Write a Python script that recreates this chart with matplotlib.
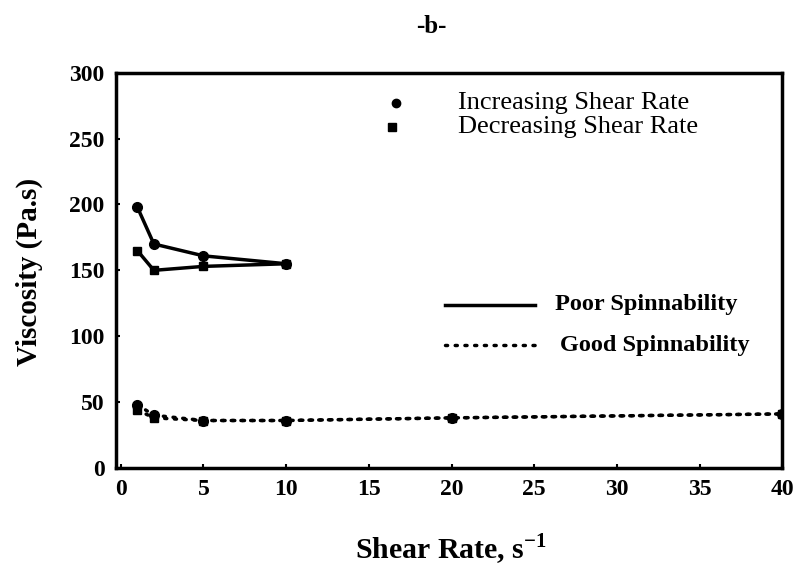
import matplotlib.pyplot as plt

plt.rcParams['font.family'] = ['Liberation Serif', 'DejaVu Serif']
plt.rcParams['mathtext.fontset'] = 'custom'
plt.rcParams['mathtext.rm'] = 'Liberation Serif'
plt.rcParams['mathtext.bf'] = 'Liberation Serif:bold'

# poor spinnability (solid)
poor_inc_x = [1, 2, 5, 10]
poor_inc_y = [198, 170, 161, 155]
poor_dec_x = [1, 2, 5, 10]
poor_dec_y = [165, 150, 153, 155]

# good spinnability (dotted)
good_inc_x = [1, 2, 5, 10, 20, 40]
good_inc_y = [48, 40, 36, 36, 38, 41]
good_dec_x = [1, 2, 5, 10, 20, 40]
good_dec_y = [44, 38, 36, 36, 38, 41]

xticks = [0, 5, 10, 15, 20, 25, 30, 35, 40]
yticks = [0, 50, 100, 150, 200, 250, 300]

dots = (0, (0.6, 2.2))

fig = plt.figure(figsize=(7.99, 5.82), dpi=100)
ax = fig.add_axes([0.145, 0.196, 0.834, 0.679])

ax.plot(poor_inc_x, poor_inc_y, '-', color='black', lw=2.5, marker='o', ms=7)
ax.plot(poor_dec_x, poor_dec_y, '-', color='black', lw=2.5, marker='s', ms=6)
ax.plot(good_inc_x, good_inc_y, color='black', lw=2.5, ls=dots,
        dash_capstyle='round', marker='o', ms=7)
ax.plot(good_dec_x, good_dec_y, color='black', lw=2.5, ls=dots,
        dash_capstyle='round', marker='s', ms=6)

ax.set_xlim(-0.3, 40)
ax.set_ylim(0, 300)
ax.set_xticks(xticks)
ax.set_yticks(yticks)
for s in ax.spines.values():
    s.set_linewidth(2.5)
ax.tick_params(direction='in', length=3, width=1.5, labelsize=17, pad=8)
for lab in ax.get_xticklabels() + ax.get_yticklabels():
    lab.set_fontweight('bold')

ax.set_xlabel('Shear Rate, s$^{\\mathbf{-1}}$', fontsize=21.5, fontweight='bold')
ax.xaxis.set_label_coords(0.503, -0.162)
ax.set_ylabel('Viscosity (Pa.s)', fontsize=21, fontweight='bold')
ax.yaxis.set_label_coords(-0.11, 0.496)
fig.text(0.54, 0.954, '-b-', ha='center', va='center', fontsize=18, fontweight='bold')

# key for the markers
tr = ax.transAxes
ax.plot([0.42], [0.924], 'o', color='black', ms=6, transform=tr, clip_on=False)
ax.plot([0.414], [0.863], 's', color='black', ms=6, transform=tr, clip_on=False)
ax.text(0.514, 0.924, 'Increasing Shear Rate', transform=tr, fontsize=19, va='center')
ax.text(0.514, 0.863, 'Decreasing Shear Rate', transform=tr, fontsize=19, va='center')

# key for the lines
ax.plot([0.494, 0.629], [0.413, 0.413], color='black', lw=2.5, transform=tr)
ax.plot([0.494, 0.629], [0.311, 0.311], color='black', lw=2.5, ls=dots,
        dash_capstyle='round', transform=tr)
ax.text(0.659, 0.413, 'Poor Spinnability', transform=tr, fontsize=17.5,
        fontweight='bold', va='center')
ax.text(0.667, 0.311, 'Good Spinnability', transform=tr, fontsize=17.5,
        fontweight='bold', va='center')

fig.savefig('out.png', dpi=100)
